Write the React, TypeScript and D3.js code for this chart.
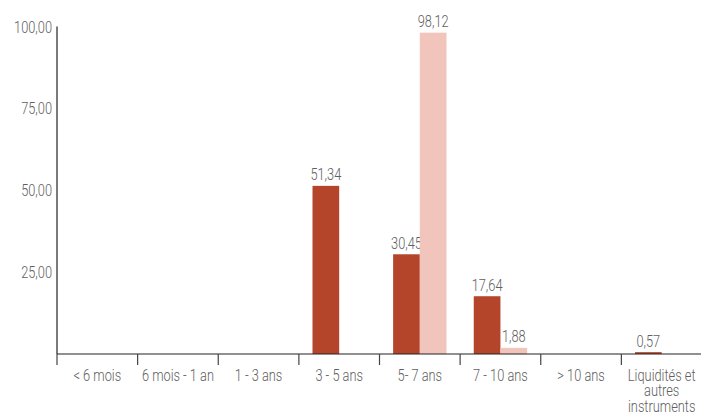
import { useRef, useEffect } from 'react';
import * as d3 from 'd3';

const categories = ['< 6 mois', '6 mois - 1 an', '1 - 3 ans', '3 - 5 ans', '5- 7 ans', '7 - 10 ans', '> 10 ans', 'Liquidités et|autres|instruments'];
const seriesNames = ['A', 'B'];
const seriesA = [0, 0, 0, 51.34, 30.45, 17.64, 0, 0.57];
const seriesB = [0, 0, 0, 0, 98.12, 1.88, 0, 0];
const yTicks = [25, 50, 75, 100];

const colors = ['#b5452a', '#f2c5bc'];
const FONT = 'Roboto, "Liberation Sans", sans-serif';
const SX = 0.8; // condensed look

export default function App() {
  const svgRef = useRef<SVGSVGElement>(null);
  const width = 701, height = 414;

  useEffect(() => {
    const svg = d3.select(svgRef.current);
    svg.selectAll('*').remove();

    const left = 57, right = 702, top = 26.5, bottom = 354;
    const x0 = d3.scaleBand<string>().domain(categories).range([left, right]).padding(0);
    const bw = x0.bandwidth();
    const x1 = d3.scaleBand<string>().domain(seriesNames).range([bw * 0.169, bw * 0.831]).padding(0);
    const y = d3.scaleLinear().domain([0, 100]).range([bottom, top]);
    const fmt = (v: number) => v.toFixed(2).replace('.', ',');

    const g = svg.append('g');

    const label = (x: number, yy: number, anchor: string) =>
      g.append('text')
        .attr('transform', `translate(${x},${yy}) scale(${SX},1)`)
        .attr('text-anchor', anchor).attr('fill', '#606060')
        .attr('font-size', '16px').attr('font-weight', 300).attr('font-family', FONT);

    // bars
    [seriesA, seriesB].forEach((vals, si) => {
      categories.forEach((c, i) => {
        const v = vals[i];
        if (!v) return;
        const bx = (x0(c) ?? 0) + (x1(seriesNames[si]) ?? 0);
        g.append('rect')
          .attr('x', bx).attr('y', y(v))
          .attr('width', x1.bandwidth()).attr('height', bottom - y(v))
          .attr('fill', colors[si]);
        label(bx + x1.bandwidth() / 2, y(v) - 5.5, 'middle').text(fmt(v));
      });
    });

    // y axis
    g.append('line').attr('x1', left).attr('x2', left).attr('y1', top).attr('y2', bottom)
      .attr('stroke', '#222').attr('stroke-width', 1.2);
    yTicks.forEach(t => {
      label(left - 5, y(t) + 6, 'end').text(fmt(t));
    });

    // x axis
    g.append('line').attr('x1', left).attr('x2', width).attr('y1', bottom).attr('y2', bottom)
      .attr('stroke', '#222').attr('stroke-width', 1.2);
    categories.forEach(c => {
      const cx = x0(c) ?? 0;
      g.append('line').attr('x1', cx).attr('x2', cx).attr('y1', bottom).attr('y2', bottom + 11)
        .attr('stroke', '#444').attr('stroke-width', 1.2);
      const t = label(cx + bw / 2, bottom + 27, 'middle');
      c.split('|').forEach((line, li) => {
        t.append('tspan').attr('x', 0).attr('dy', li === 0 ? 0 : 15.5).text(line);
      });
    });
  }, []);

  return (
    <svg ref={svgRef} width={width} height={height} viewBox={`0 0 ${width} ${height}`}
      style={{ position: 'absolute', left: 0, top: 0, background: '#fff', display: 'block' }} />
  );
}
